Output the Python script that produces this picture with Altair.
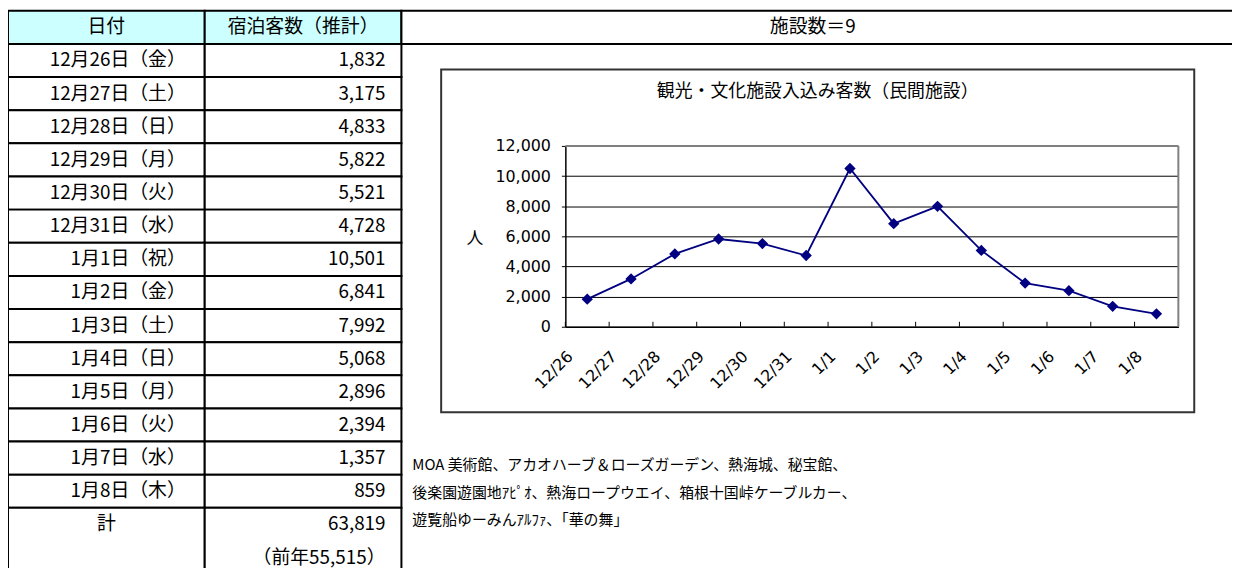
import altair as alt
import pandas as pd

# ---------------- data ----------------
day_labels = ["12月26日（金）", "12月27日（土）", "12月28日（日）", "12月29日（月）",
              "12月30日（火）", "12月31日（水）", "1月1日（祝）", "1月2日（金）",
              "1月3日（土）", "1月4日（日）", "1月5日（月）", "1月6日（火）",
              "1月7日（水）", "1月8日（木）"]
guests = [1832, 3175, 4833, 5822, 5521, 4728, 10501, 6841, 7992, 5068, 2896, 2394, 1357, 859]
chart_dates = ["12/26", "12/27", "12/28", "12/29", "12/30", "12/31", "1/1", "1/2",
               "1/3", "1/4", "1/5", "1/6", "1/7", "1/8"]
y_ticks = [0, 2000, 4000, 6000, 8000, 10000, 12000]
header_labels = ["日付", "宿泊客数（推計）"]
total_label = "計"
total_value = 63819
prev_year_text = "（前年55,515）"
facility_count_text = "施設数＝9"
chart_title = "観光・文化施設入込み客数（民間施設）"
y_unit = "人"
facility_lines = ["MOA 美術館、アカオハーブ＆ローズガーデン、熱海城、秘宝館、",
                  "後楽園遊園地ｱﾋﾟｵ、熱海ロープウエイ、箱根十国峠ケーブルカー、",
                  "遊覧船ゆーみんｱﾙﾌｧ、「華の舞」"]

# ---------------- layout ----------------
W, H = 1232, 560
FONT = "Noto Sans CJK JP"
NUMFONT = "DejaVu Sans"
TFS = 19

tx = alt.Scale(domain=[0, 2], range=[0, 396], nice=False, zero=False)
ty = alt.Scale(domain=[0, 17], range=[1, 568], nice=False, zero=False)
PX = [561, 1178]
PY = [319, 137]
sx = alt.Scale(domain=chart_dates, range=PX, paddingInner=0, paddingOuter=0)
sy = alt.Scale(domain=[0, 12000], range=PY, nice=False, zero=True)

# ---------------- table ----------------
n = len(day_labels)
cell_rows = []
for r in range(n + 1):
    for c in range(2):
        cell_rows.append({"r0": r, "r1": r + 1, "c0": c, "c1": c + 1})
for c in range(2):
    cell_rows.append({"r0": n + 1, "r1": n + 3, "c0": c, "c1": c + 1})
cells_df = pd.DataFrame(cell_rows)

cells = alt.Chart(cells_df).mark_rect(stroke="black", strokeWidth=2).encode(
    x=alt.X("c0:Q", scale=tx, axis=None), x2="c1:Q",
    y=alt.Y("r0:Q", scale=ty, axis=None), y2="r1:Q",
    fill=alt.condition("datum.r0 == 0", alt.value("#CCFFFF"), alt.value("white")),
)

right_head = alt.Chart(pd.DataFrame({"c0": [2], "r0": [0], "r1": [1]})).mark_rect(
    stroke="black", strokeWidth=2, fill="white").encode(
    x=alt.X("c0:Q", scale=tx, axis=None), x2=alt.value(W + 40),
    y=alt.Y("r0:Q", scale=ty, axis=None), y2="r1:Q",
)

header_df = pd.DataFrame({"label": header_labels, "col": [0, 1], "row": [0, 0]})
header_text = alt.Chart(header_df).transform_calculate(
    xc="datum.col + 0.5", yc="datum.row + 0.5").mark_text(
    font=FONT, fontSize=TFS, align="center", baseline="middle", color="black").encode(
    x=alt.X("xc:Q", scale=tx, axis=None), y=alt.Y("yc:Q", scale=ty, axis=None), text="label:N")

count_text = alt.Chart(pd.DataFrame({"label": [facility_count_text], "row": [0]})).transform_calculate(
    yc="datum.row + 0.5").mark_text(
    font=FONT, fontSize=TFS, align="center", baseline="middle", color="black").encode(
    x=alt.value((396 + W) / 2 - 4), y=alt.Y("yc:Q", scale=ty, axis=None), text="label:N")

day_df = pd.DataFrame({"row": list(range(1, n + 1)), "date": day_labels,
                       "guests": guests, "label": chart_dates})

date_text = alt.Chart(day_df).transform_calculate(
    xr="1", yc="datum.row + 0.5").mark_text(
    font=FONT, fontSize=TFS, align="right", baseline="middle", dx=-19, color="black").encode(
    x=alt.X("xr:Q", scale=tx, axis=None), y=alt.Y("yc:Q", scale=ty, axis=None), text="date:N")

value_text = alt.Chart(day_df).transform_calculate(
    xr="2", yc="datum.row + 0.5").mark_text(
    font=FONT, fontSize=TFS, align="right", baseline="middle", dx=-16, color="black").encode(
    x=alt.X("xr:Q", scale=tx, axis=None), y=alt.Y("yc:Q", scale=ty, axis=None),
    text=alt.Text("guests:Q", format=","))

total_df = pd.DataFrame({"row": [n + 1], "label": [total_label]})
total_label_text = alt.Chart(total_df).transform_calculate(
    xc="0.5", yc="datum.row + 0.5").mark_text(
    font=FONT, fontSize=TFS, align="center", baseline="middle", color="black").encode(
    x=alt.X("xc:Q", scale=tx, axis=None), y=alt.Y("yc:Q", scale=ty, axis=None), text="label:N")

total_vals_df = pd.DataFrame({"row": [n + 1, n + 2],
                              "label": [format(total_value, ","), prev_year_text]})
total_val_text = alt.Chart(total_vals_df).transform_calculate(
    xr="2", yc="datum.row + 0.5").mark_text(
    font=FONT, fontSize=TFS, align="right", baseline="middle", dx=-16, color="black").encode(
    x=alt.X("xr:Q", scale=tx, axis=None), y=alt.Y("yc:Q", scale=ty, axis=None), text="label:N")

# ---------------- chart ----------------
one = pd.DataFrame({"a": [0]})
box = alt.Chart(one).mark_rect(fillOpacity=0, stroke="#333333", strokeWidth=2).encode(
    x=alt.value(436), x2=alt.value(1194), y=alt.value(60), y2=alt.value(405))

title_text = alt.Chart(pd.DataFrame({"t": [chart_title]})).mark_text(
    font=FONT, fontSize=18, align="center", baseline="middle", color="black").encode(
    x=alt.value(815), y=alt.value(83), text="t:N")

unit_text = alt.Chart(pd.DataFrame({"t": [y_unit]})).mark_text(
    font=FONT, fontSize=17, align="center", baseline="middle", color="black").encode(
    x=alt.value(470), y=alt.value(231), text="t:N")

xaxis = alt.Axis(orient="bottom", offset=-(H - PY[0]), title=None, labelAngle=-45,
                 labelAlign="right", labelBaseline="middle", labelFont=NUMFONT,
                 labelFontSize=16, labelColor="black", labelOffset=-17, labelPadding=27,
                 ticks=False, tickSize=0, domainColor="black", domainWidth=1.5,
                 grid=False, labelOverlap=False)
yaxis = alt.Axis(orient="left", offset=-PX[0], values=y_ticks, format=",",
                 labelExpr="format(datum.value, ',')", title=None,
                 labelFont=NUMFONT, labelFontSize=16, labelColor="black",
                 tickSize=4, tickColor="black", labelPadding=11,
                 domainColor="black", domainWidth=1.5, grid=True,
                 gridColor="#000000", gridWidth=1, labelOverlap=False)

base = alt.Chart(day_df)
line = base.mark_line(color="#000080", strokeWidth=1.8).encode(
    x=alt.X("label:N", scale=sx, sort=None, axis=xaxis),
    y=alt.Y("guests:Q", scale=sy, axis=yaxis))
points = base.mark_point(shape="diamond", filled=True, size=130, color="#000080", opacity=1).encode(
    x=alt.X("label:N", scale=sx, sort=None, axis=xaxis),
    y=alt.Y("guests:Q", scale=sy, axis=yaxis))
inner_ticks = base.mark_rule(color="black", strokeWidth=1).encode(
    x=alt.X("label:N", bandPosition=0, scale=sx, sort=None, axis=xaxis),
    y=alt.value(PY[0] - 5), y2=alt.value(PY[0]))
top_border = alt.Chart(one).mark_rule(color="#808080", strokeWidth=2).encode(
    x=alt.value(PX[0]), x2=alt.value(PX[1]), y=alt.value(PY[1]))
right_border = alt.Chart(one).mark_rule(color="#808080", strokeWidth=2).encode(
    x=alt.value(PX[1]), y=alt.value(PY[1]), y2=alt.value(PY[0]))

plot = alt.layer(line, inner_ticks, points)

foot_df = pd.DataFrame({"i": list(range(len(facility_lines))), "t": facility_lines})
foot_text = alt.Chart(foot_df).mark_text(
    font=FONT, fontSize=15, align="left", baseline="middle", color="black").encode(
    x=alt.value(407),
    y=alt.Y("i:Q", scale=alt.Scale(domain=[0, 2], range=[458, 514], nice=False, zero=False), axis=None),
    text="t:N")

chart = alt.layer(
    plot, top_border, right_border, cells, right_head, header_text, count_text, date_text,
    value_text, total_label_text, total_val_text, box, title_text, unit_text, foot_text,
).resolve_scale(x="independent", y="independent").properties(
    width=W, height=H, autosize=alt.AutoSizeParams(type="none"), padding=0,
    background="white",
).configure_view(stroke=None)

chart.save("out.html", embed_options={"renderer": "svg", "actions": False})
